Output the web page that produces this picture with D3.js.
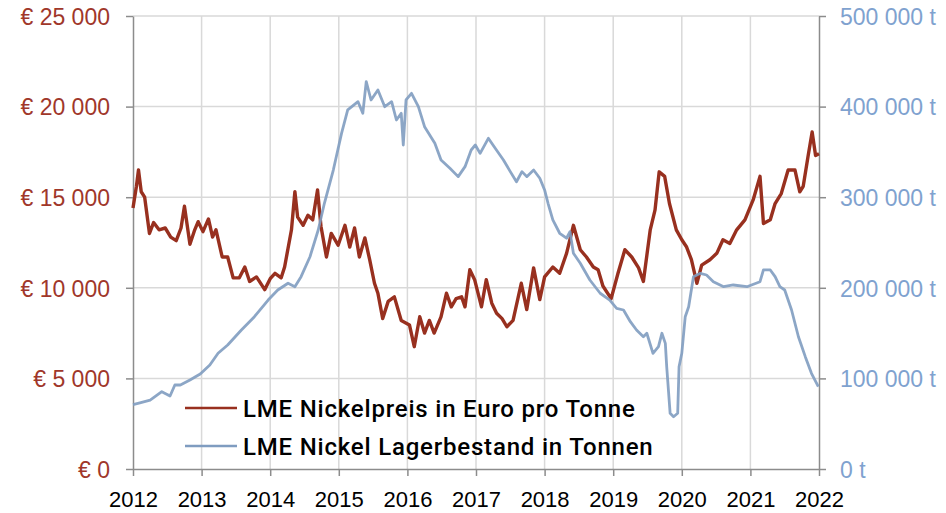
<!DOCTYPE html>
<html>
<head>
<meta charset="utf-8">
<script src="https://cdn.jsdelivr.net/npm/d3@7"></script>
<style>
  body { margin: 0; background: #fff; }
  svg { display: block; font-family: Roboto, "Noto Sans", sans-serif; }
  .grid line { stroke: #d9d9d9; stroke-width: 1.5; }
  .axis path, .axis line { stroke: #8c8c8c; stroke-width: 1.5; }
</style>
</head>
<body>
<script>
(function(){

//nickel price, euro per tonne (decimal years)
var priceYears = [2012.00,2012.05,2012.08,2012.12,2012.17,2012.24,2012.30,2012.38,2012.47,2012.55,2012.63,2012.70,2012.75,2012.83,2012.90,2012.95,
    2013.02,2013.10,2013.16,2013.21,2013.30,2013.38,2013.46,2013.55,2013.63,2013.70,2013.80,2013.92,
    2014.00,2014.07,2014.16,2014.21,2014.31,2014.36,2014.40,2014.48,2014.55,2014.62,2014.69,2014.74,2014.82,2014.89,2014.99,
    2015.09,2015.16,2015.23,2015.30,2015.38,2015.45,2015.52,2015.57,2015.64,2015.72,2015.81,2015.91,
    2016.03,2016.10,2016.18,2016.25,2016.32,2016.39,2016.49,2016.57,2016.64,2016.71,2016.79,2016.84,2016.91,2016.98,
    2017.08,2017.15,2017.23,2017.30,2017.38,2017.45,2017.54,2017.66,2017.74,2017.84,2017.93,
    2018.00,2018.12,2018.22,2018.32,2018.42,2018.52,2018.61,2018.71,2018.78,2018.85,2018.97,
    2019.07,2019.17,2019.27,2019.37,2019.44,2019.54,2019.61,2019.67,2019.75,2019.82,2019.92,
    2020.00,2020.07,2020.14,2020.22,2020.29,2020.41,2020.51,2020.60,2020.70,2020.80,2020.92,
    2021.04,2021.14,2021.19,2021.29,2021.36,2021.45,2021.55,2021.65,2021.72,2021.77,2021.84,2021.90,2021.95,2022.00];
var priceEuro = [14400,15600,16500,15300,15000,13000,13600,13200,13300,12800,12600,13300,14500,12400,13200,13650,
    13100,13800,12800,13200,11700,11700,10550,10550,11150,10350,10600,9900,
    10500,10800,10550,11150,13200,15300,13900,13450,14000,13750,15400,13400,11700,13000,12350,
    13450,12250,13300,11700,12750,11550,10250,9700,8300,9250,9500,8200,
    7950,6750,8400,7500,8200,7500,8400,9700,8950,9400,9500,8950,11000,10450,
    8950,10450,9150,8600,8300,7850,8200,10250,8800,11100,9350,
    10600,11150,10800,11900,13450,12100,11700,11150,11000,10100,9400,
    10800,12100,11700,11100,10350,13200,14300,16400,16150,14650,13200,
    12650,12250,11550,10250,11250,11550,11900,12650,12450,13200,13750,
    14850,16150,13550,13750,14650,15200,16500,16500,15300,15600,17250,18600,17300,17400];

//nickel stock, tonnes (decimal years)
var stockYears = [2012.00,2012.10,2012.25,2012.42,2012.54,2012.61,2012.69,2012.83,2012.98,
    2013.12,2013.24,2013.38,2013.58,2013.77,2013.97,
    2014.11,2014.26,2014.36,2014.45,2014.58,2014.70,2014.79,2014.92,
    2015.04,2015.13,2015.28,2015.35,2015.40,2015.47,2015.57,2015.67,2015.77,2015.84,2015.91,2015.94,2015.98,
    2016.06,2016.16,2016.25,2016.40,2016.49,2016.62,2016.74,2016.84,2016.93,2016.99,
    2017.06,2017.18,2017.28,2017.40,2017.50,2017.59,2017.67,2017.74,2017.84,2017.93,
    2018.00,2018.05,2018.12,2018.22,2018.32,2018.37,2018.42,2018.52,2018.66,2018.81,2018.95,
    2019.05,2019.15,2019.25,2019.34,2019.44,2019.49,2019.58,2019.66,2019.71,2019.76,2019.78,2019.83,2019.88,2019.94,2019.96,
    2020.00,2020.05,2020.10,2020.17,2020.27,2020.36,2020.46,2020.61,2020.75,2020.95,
    2021.14,2021.19,2021.29,2021.36,2021.43,2021.50,2021.60,2021.70,2021.80,2021.89,2021.99];
var stockTonnes = [71000,73000,76000,85300,80600,92700,92700,98200,104900,
    114800,127700,136900,153400,168100,186500,
    197600,205000,201200,212300,234300,263800,293300,330000,
    370500,396300,405400,392600,427500,407300,418300,399900,405400,385200,392600,357600,407300,
    414700,400000,377800,359500,341100,331900,322700,333700,352100,357600,
    348400,365000,354000,341100,328200,317100,328200,322700,330000,320900,
    308000,293300,274900,260200,254700,262000,238100,227100,208600,194000,186500,
    177400,175500,162600,153400,146000,149800,127700,135000,149800,138700,112900,61500,57700,61500,112900,
    127700,168100,179100,212300,216000,214100,206700,201200,203100,201200,
    206700,219700,219700,212300,201200,197600,175500,146000,124000,105600,90800];

//axis ticks
var yearTicks = [2012,2013,2014,2015,2016,2017,2018,2019,2020,2021,2022];
var priceTicks = [0,5000,10000,15000,20000,25000];
var stockTicks = [0,100000,200000,300000,400000,500000];
var seriesNames = ["LME Nickelpreis in Euro pro Tonne", "LME Nickel Lagerbestand in Tonnen"];

var width = 946, height = 513;
var left = 133, right = 819, top = 16, bottom = 469;
var redColor = "#98301f", blueColor = "#7f9cc0";

var svg = d3.select("body").append("svg")
    .attr("width", width)
    .attr("height", height);

var x = d3.scaleLinear().domain([2012, 2022]).range([left, right]);
var yPrice = d3.scaleLinear().domain([0, 25000]).range([bottom, top]);
var yStock = d3.scaleLinear().domain([0, 500000]).range([bottom, top]);

var loc = d3.formatLocale({decimal: ",", thousands: " ", grouping: [3], currency: ["€ ", ""]});
var group = loc.format(",d");

//gridlines
var grid = svg.append("g").attr("class", "grid");
grid.selectAll(".h").data(priceTicks.slice(1))
    .enter().append("line")
    .attr("x1", left).attr("x2", right)
    .attr("y1", function(d){ return yPrice(d); })
    .attr("y2", function(d){ return yPrice(d); });
grid.selectAll(".v").data(yearTicks.slice(1, -1))
    .enter().append("line")
    .attr("y1", top).attr("y2", bottom)
    .attr("x1", function(d){ return x(d); })
    .attr("x2", function(d){ return x(d); });

//axes
var axisLeft = svg.append("g").attr("class", "axis")
    .attr("transform", "translate(" + left + ",0)")
    .call(d3.axisLeft(yPrice).tickValues(priceTicks).tickSize(7).tickSizeOuter(0).tickPadding(16)
        .tickFormat(function(d){ return "€ " + group(d); }));
axisLeft.selectAll("text")
    .attr("fill", "#a0372a").style("font-size", "23px").attr("dy", "0.36em");

var axisRight = svg.append("g").attr("class", "axis")
    .attr("transform", "translate(" + right + ",0)")
    .call(d3.axisRight(yStock).tickValues(stockTicks).tickSize(7).tickSizeOuter(0).tickPadding(14)
        .tickFormat(function(d){ return group(d) + " t"; }));
axisRight.selectAll("text")
    .attr("fill", "#7fa2cf").style("font-size", "23px").attr("dy", "0.36em");

var axisBottom = svg.append("g").attr("class", "axis")
    .attr("transform", "translate(0," + bottom + ")")
    .call(d3.axisBottom(x).tickValues(yearTicks).tickSize(7).tickSizeOuter(0).tickPadding(15)
        .tickFormat(d3.format("d")));
axisBottom.selectAll("text")
    .attr("fill", "#000").style("font-size", "22px").style("font-weight", "500").attr("dy", "0.71em");

//series lines
var priceLine = d3.line()
    .x(function(d, i){ return x(priceYears[i]); })
    .y(function(d){ return yPrice(d); });
var stockLine = d3.line()
    .x(function(d, i){ return x(stockYears[i]); })
    .y(function(d){ return yStock(d); });

svg.append("path")
    .datum(priceEuro)
    .attr("fill", "none")
    .attr("stroke", redColor)
    .attr("stroke-width", 3.4)
    .attr("stroke-linejoin", "round")
    .attr("d", priceLine);

svg.append("path")
    .datum(stockTonnes)
    .attr("fill", "none")
    .attr("stroke", blueColor)
    .attr("stroke-width", 2.8)
    .attr("stroke-opacity", 0.9)
    .attr("stroke-linejoin", "round")
    .attr("d", stockLine);

//legend
var legend = svg.append("g").attr("transform", "translate(185,408)");
var rows = legend.selectAll("g").data(seriesNames)
    .enter().append("g")
    .attr("transform", function(d, i){ return "translate(0," + (i * 38) + ")"; });
rows.append("line")
    .attr("x1", 0).attr("x2", 52)
    .attr("stroke", function(d, i){ return i == 0 ? redColor : blueColor; })
    .attr("stroke-width", 2.5);
rows.append("text")
    .attr("x", 58).attr("y", 9)
    .style("font-size", "24px")
    .style("font-weight", "500")
    .style("letter-spacing", "0.8px")
    .attr("fill", "#000")
    .text(function(d){ return d; });

})();
</script>
</body>
</html>
